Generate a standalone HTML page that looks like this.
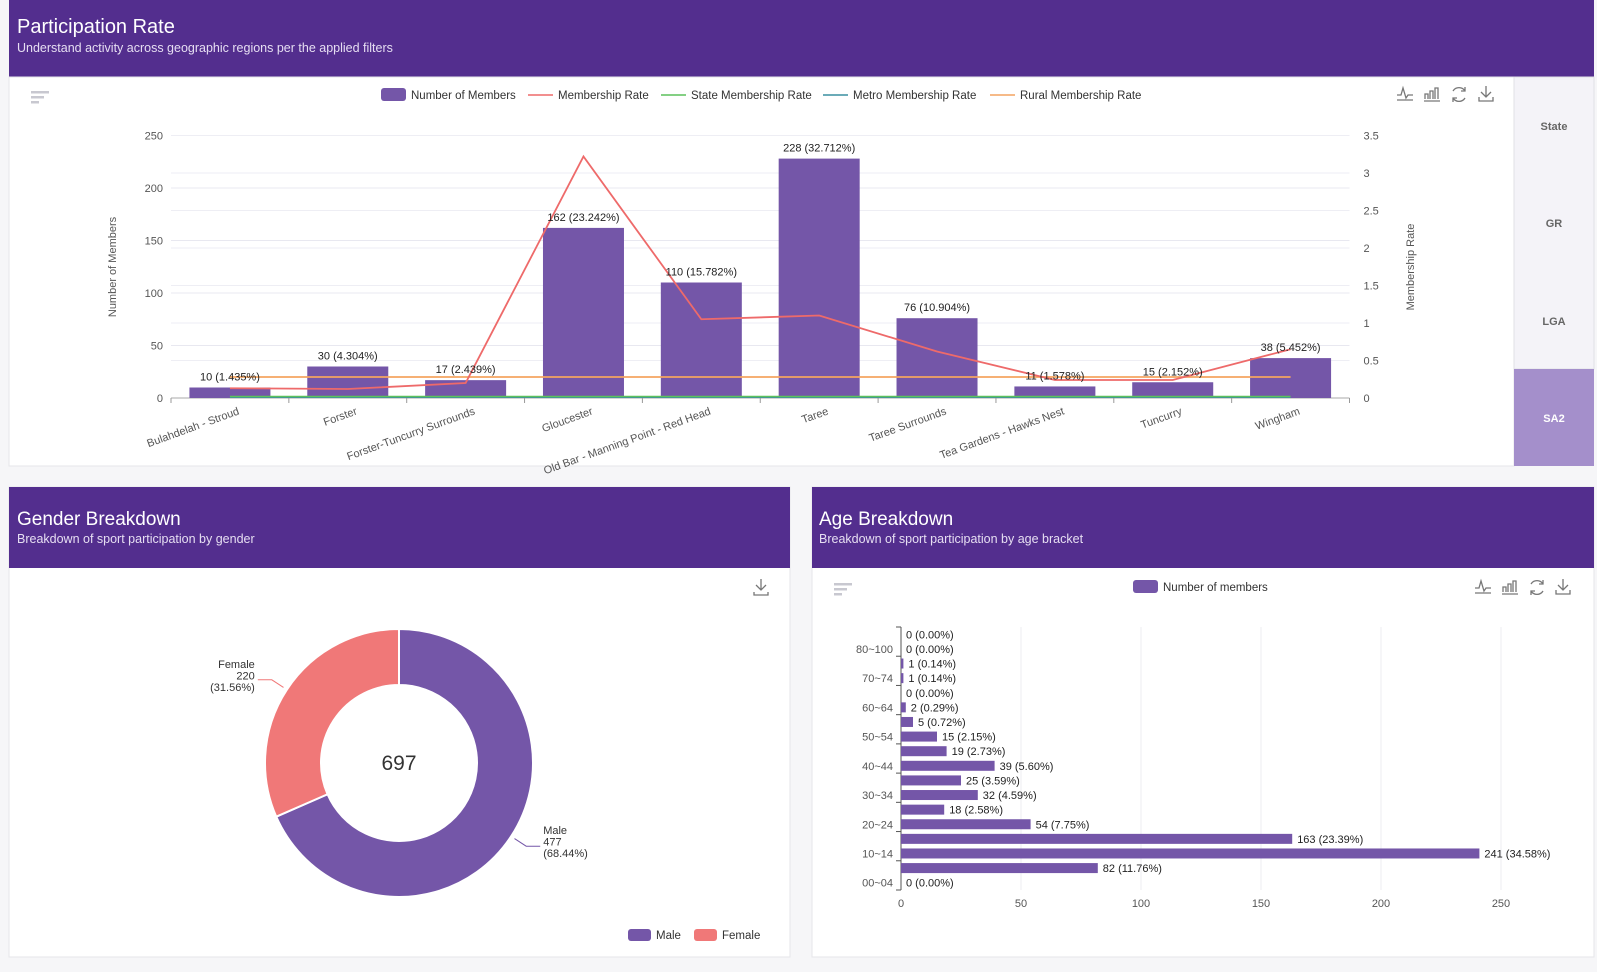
<!DOCTYPE html>
<html><head><meta charset="utf-8">
<style>
html,body{margin:0;padding:0;background:#f6f6f8;}
body{width:1597px;height:967px;overflow:hidden;font-family:"Liberation Sans",sans-serif;}
svg text{font-family:"Liberation Sans",sans-serif;}
</style></head>
<body>
<svg id="root" width="1597" height="967" viewBox="0 0 1597 967" xmlns="http://www.w3.org/2000/svg">
  <rect x="0" y="0" width="1597" height="967" fill="#f6f6f8"/>
  <!-- Top panel -->
  <g>
    <rect x="9" y="0" width="1585" height="77" fill="#532e8e"/>
    <text x="17" y="33" fill="#fff" font-size="20">Participation Rate</text>
    <text x="17" y="52" fill="#e6def2" font-size="12.5">Understand activity across geographic regions per the applied filters</text>
    <rect x="9" y="77" width="1505" height="389" fill="#fff" stroke="#e6e6ea"/>
    <rect x="1514" y="77" width="80" height="292" fill="#f4f3f8" stroke="#e0e0e6"/>
    <text x="1554" y="130" text-anchor="middle" font-size="11" font-weight="bold" fill="#666">State</text>
    <text x="1554" y="227" text-anchor="middle" font-size="11" font-weight="bold" fill="#666">GR</text>
    <text x="1554" y="325" text-anchor="middle" font-size="11" font-weight="bold" fill="#666">LGA</text>
    <rect x="1514" y="369" width="80" height="97" fill="#a48fcb"/>
    <text x="1554" y="422" text-anchor="middle" font-size="11" font-weight="bold" fill="#fff">SA2</text>
    <g fill="#c8c8d0">
      <rect x="31" y="91" width="18" height="2.5"/><rect x="31" y="96" width="13" height="2.5"/><rect x="31" y="101" width="8" height="2.5"/>
    </g>
    <g id="topIcons" stroke="#777" stroke-width="1.3" fill="none"></g>
    <g id="topLegend"></g>
    <g id="topChart"></g>
  </g>
  <!-- Gender panel -->
  <g>
    <rect x="9" y="487" width="781" height="470" fill="#fff" stroke="#e6e6ea"/>
    <rect x="9" y="487" width="781" height="81" fill="#532e8e"/>
    <text x="17" y="525" fill="#fff" font-size="19">Gender Breakdown</text>
    <text x="17" y="543" fill="#e6def2" font-size="12.5">Breakdown of sport participation by gender</text>
    <g stroke="#777" stroke-width="1.3" fill="none">
      <path d="M761 579 v11 M756 585 l5 5 l5 -5 M754 592 v3 h14 v-3"/>
    </g>
    <g id="donut"></g>
  </g>
  <!-- Age panel -->
  <g>
    <rect x="812" y="487" width="782" height="470" fill="#fff" stroke="#e6e6ea"/>
    <rect x="812" y="487" width="782" height="81" fill="#532e8e"/>
    <text x="819" y="525" fill="#fff" font-size="19">Age Breakdown</text>
    <text x="819" y="543" fill="#e6def2" font-size="12.5">Breakdown of sport participation by age bracket</text>
    <g fill="#c8c8d0">
      <rect x="834" y="583" width="18" height="2.5"/><rect x="834" y="588" width="13" height="2.5"/><rect x="834" y="593" width="8" height="2.5"/>
    </g>
    <rect x="1133" y="580" width="25" height="13" rx="3" fill="#7456a8"/>
    <text x="1163" y="591" font-size="11.5" fill="#333">Number of members</text>
    <g id="ageIcons" stroke="#777" stroke-width="1.3" fill="none"></g>
    <g id="ageChart"></g>
  </g>
</svg>
<script>
// ---------- Top chart data ----------
const regions = ["Bulahdelah - Stroud","Forster","Forster-Tuncurry Surrounds","Gloucester","Old Bar - Manning Point - Red Head","Taree","Taree Surrounds","Tea Gardens - Hawks Nest","Tuncurry","Wingham"];
const members = [10,30,17,162,110,228,76,11,15,38];
const memberPct = ["1.435%","4.304%","2.439%","23.242%","15.782%","32.712%","10.904%","1.578%","2.152%","5.452%"];
const membershipRate = [0.13,0.12,0.2,3.22,1.05,1.1,0.62,0.24,0.24,0.65];
const stateRate = [0.02,0.02,0.02,0.02,0.02,0.02,0.02,0.02,0.02,0.02];
const metroRate = [0.01,0.01,0.01,0.01,0.01,0.01,0.01,0.01,0.01,0.01];
const ruralRate = [0.28,0.28,0.28,0.28,0.28,0.28,0.28,0.28,0.28,0.28];
const leftTicks = [0,50,100,150,200,250];
const rightTicks = [0,0.5,1,1.5,2,2.5,3,3.5];
// ---------- Gender data ----------
const genders = ["Male","Female"];
const genderCounts = [477,220];
const genderPct = ["68.44%","31.56%"];
// ---------- Age data (bottom to top) ----------
const ageBrackets = ["00~04","05~09","10~14","15~19","20~24","25~29","30~34","35~39","40~44","45~49","50~54","55~59","60~64","65~69","70~74","75~79","80~100","100+"];
const ageCounts = [0,82,241,163,54,18,32,25,39,19,15,5,2,0,1,1,0,0];
const agePct = ["0.00%","11.76%","34.58%","23.39%","7.75%","2.58%","4.59%","3.59%","5.60%","2.73%","2.15%","0.72%","0.29%","0.00%","0.14%","0.14%","0.00%","0.00%"];
const ageTicks = [0,50,100,150,200,250];

const NS="http://www.w3.org/2000/svg";
function mk(tag,attrs,parent,txt){const e=document.createElementNS(NS,tag);for(const k in attrs)e.setAttribute(k,attrs[k]);if(txt!==undefined)e.textContent=txt;parent.appendChild(e);return e;}

// ---- top chart ----
(function(){
  const g=document.getElementById('topChart');
  const x0=171,x1=1349.5,y0=398,yTop=135.5;
  const yL=v=>y0-(v/250)*(y0-yTop);
  const yR=v=>y0-(v/3.5)*(y0-yTop);
  const band=(x1-x0)/regions.length;
  const xc=i=>x0+band*(i+0.5);
  leftTicks.forEach(t=>{
    const l=mk('line',{x1:x0,x2:x1,y1:yL(t),y2:yL(t),stroke:t===0?'#aaa':'#e8e8f0','stroke-width':1},g);
    
    const tx=mk('text',{x:x0-8,y:yL(t)+4,'text-anchor':'end','font-size':11,fill:'#555'},g,String(t));
    
  });
  rightTicks.forEach(t=>{
    if(t>0){const l=mk('line',{x1:x0,x2:x1,y1:yR(t),y2:yR(t),stroke:'#eeeef4','stroke-width':1},g);
    }
    const tx=mk('text',{x:x1+14,y:yR(t)+4,'font-size':11,fill:'#555'},g,String(t));
    
  });
  const yt=mk('text',{x:0,y:0,'font-size':11,fill:'#555','text-anchor':'middle',transform:'translate(116,267) rotate(-90)'},g,'Number of Members');
  
  const yt2=mk('text',{x:0,y:0,'font-size':11,fill:'#555','text-anchor':'middle',transform:'translate(1414,267) rotate(-90)'},g,'Membership Rate');
  
  for(let i=0;i<=regions.length;i++){
    const t=mk('line',{x1:x0+band*i,x2:x0+band*i,y1:y0,y2:y0+5,stroke:'#999'},g);
    
  }
  const bw=81;
  members.forEach((v,i)=>{
    const r=mk('rect',{x:xc(i)-bw/2,y:yL(v),width:bw,height:y0-yL(v),fill:'#7456a8'},g);
    
  });
  regions.forEach((n,i)=>{
    const t=mk('text',{x:0,y:0,'font-size':11,fill:'#555','text-anchor':'end',transform:`translate(${xc(i)+10},${y0+16}) rotate(-20)`},g,n);
    
  });
  function line(vals,color,name,w){
    const p=mk('polyline',{points:vals.map((v,i)=>xc(i)+','+yR(v)).join(' '),fill:'none',stroke:color,'stroke-width':w},g);
    
  }
  line(metroRate,'#3a8fa0','metro-rate-line',1.5);
  line(stateRate,'#5cc05c','state-rate-line',1.5);
  line(ruralRate,'#f4a460','rural-rate-line',1.8);
  line(membershipRate,'#ee6a6a','membership-rate-line',1.8);
  members.forEach((v,i)=>{
    const t=mk('text',{x:xc(i),y:yL(v)-7,'font-size':11,fill:'#222','text-anchor':'middle'},g,v+' ('+memberPct[i]+')');
    
  });
  // legend
  const lg=document.getElementById('topLegend');
  const items=[["Number of Members","bar","#7456a8",381],["Membership Rate","line","#ee6a6a",528],["State Membership Rate","line","#5cc05c",661],["Metro Membership Rate","line","#3a8fa0",823],["Rural Membership Rate","line","#f4a460",990]];
  items.forEach(it=>{
    let s;
    if(it[1]==='bar'){s=mk('rect',{x:it[3],y:88,width:25,height:13,rx:3,fill:it[2]},lg);}
    else{s=mk('line',{x1:it[3],x2:it[3]+25,y1:95,y2:95,stroke:it[2],'stroke-width':1.6},lg);}
    
    const t=mk('text',{x:it[3]+30,y:99,'font-size':11.5,fill:'#333'},lg,it[0]);
    
  });
})();

function icons(gid,xs,y){
  const g=document.getElementById(gid);
  const d=[
    `M${xs[0]-8} ${y+1} h4 l2 -7 l3 10 l2 -3 h5 M${xs[0]-8} ${y+6} h16`,
    `M${xs[1]-7} ${y+5} v-5 h3 v5 M${xs[1]-2} ${y+5} v-8 h3 v8 M${xs[1]+3} ${y+5} v-11 h3 v11 M${xs[1]-8} ${y+7} h16`,
    `M${xs[2]+6} ${y-3} a7 7 0 0 0 -12 0 M${xs[2]-6} ${y+4} a7 7 0 0 0 12 0 M${xs[2]+6} ${y-7} v4 h-4 M${xs[2]-6} ${y+8} v-4 h4`,
    `M${xs[3]} ${y-8} v11 M${xs[3]-5} ${y-2} l5 5 l5 -5 M${xs[3]-7} ${y+3} v4 h14 v-4`
  ];
  const names=['line-chart-toggle','bar-chart-toggle','restore-icon','download-icon'];
  d.forEach((p,i)=>{const e=mk('path',{d:p},g);
    });
}
icons('topIcons',[1405,1432,1459,1486],94);
icons('ageIcons',[1483,1510,1537,1563],587);

// ---- donut ----
(function(){
  const g=document.getElementById('donut');
  const cx=399,cy=763,R=134,r=78;
  const total=genderCounts.reduce((a,b)=>a+b,0);
  const colors=['#7456a8','#f07878'];
  let a0=-Math.PI/2;
  genderCounts.forEach((v,i)=>{
    const a1=a0+v/total*2*Math.PI;
    const big=(a1-a0)>Math.PI?1:0;
    const P=(rad,a)=>[cx+rad*Math.cos(a),cy+rad*Math.sin(a)];
    const [x1,y1]=P(R,a0),[x2,y2]=P(R,a1),[x3,y3]=P(r,a1),[x4,y4]=P(r,a0);
    const p=mk('path',{d:`M${x1} ${y1} A${R} ${R} 0 ${big} 1 ${x2} ${y2} L${x3} ${y3} A${r} ${r} 0 ${big} 0 ${x4} ${y4} Z`,fill:colors[i],stroke:'#fff','stroke-width':2},g);
    
    const am=(a0+a1)/2;
    const [lx,ly]=P(R+4,am),[mx,my]=P(R+18,am);
    const right=Math.cos(am)>0;
    const ex=right?mx+14:mx-14;
    const ln=mk('polyline',{points:`${lx},${ly} ${mx},${my} ${ex},${my}`,fill:'none',stroke:colors[i],'stroke-width':1},g);
    
    const tx=right?ex+3:ex-3;
    const t=mk('text',{x:tx,y:my-12,'font-size':11,fill:'#333','text-anchor':right?'start':'end'},g);
    
    [genders[i],String(v),'('+genderPct[i]+')'].forEach((s,k)=>mk('tspan',{x:tx,dy:k?11.5:0},t,s));
    a0=a1;
  });
  const c=mk('text',{x:cx,y:cy+7,'text-anchor':'middle','font-size':21,fill:'#333'},g,String(total));
  
  // legend
  genders.forEach((n,i)=>{
    const x=[628,694][i];
    const s=mk('rect',{x:x,y:929,width:23,height:12,rx:3,fill:colors[i]},g);
    
    const t=mk('text',{x:x+28,y:939,'font-size':11.5,fill:'#333'},g,n);
    
  });
})();

// ---- age chart ----
(function(){
  const g=document.getElementById('ageChart');
  const x0=901,x250=1501,yTop=627,yBot=890;
  const xs=v=>x0+(v/250)*(x250-x0);
  const n=ageBrackets.length,step=(yBot-yTop)/n;
  const yc=i=>yBot-step*(i+0.5);
  ageTicks.forEach(t=>{
    if(t>0){const l=mk('line',{x1:xs(t),x2:xs(t),y1:yTop,y2:yBot,stroke:'#ececf2'},g);
    }
    const tx=mk('text',{x:xs(t),y:yBot+17,'text-anchor':'middle','font-size':11,fill:'#555'},g,String(t));
    
  });
  const ax=mk('line',{x1:x0,x2:x0,y1:yTop,y2:yBot,stroke:'#555'},g);
  
  for(let k=0;k<=n;k+=2){
    const tk=mk('line',{x1:x0-5,x2:x0,y1:yBot-step*k,y2:yBot-step*k,stroke:'#555'},g);
    
  }
  ageCounts.forEach((v,i)=>{
    if(v>0){const r=mk('rect',{x:x0,y:yc(i)-5,width:xs(v)-x0,height:10,fill:'#7456a8'},g);
    }
    const t=mk('text',{x:xs(v)+5,y:yc(i)+4,'font-size':11,fill:'#222'},g,v+' ('+agePct[i]+')');
    
    if(i%2===0){const l=mk('text',{x:x0-8,y:yc(i)+4,'text-anchor':'end','font-size':11,fill:'#555'},g,ageBrackets[i]);
    }
  });
})();
</script>
</body></html>
